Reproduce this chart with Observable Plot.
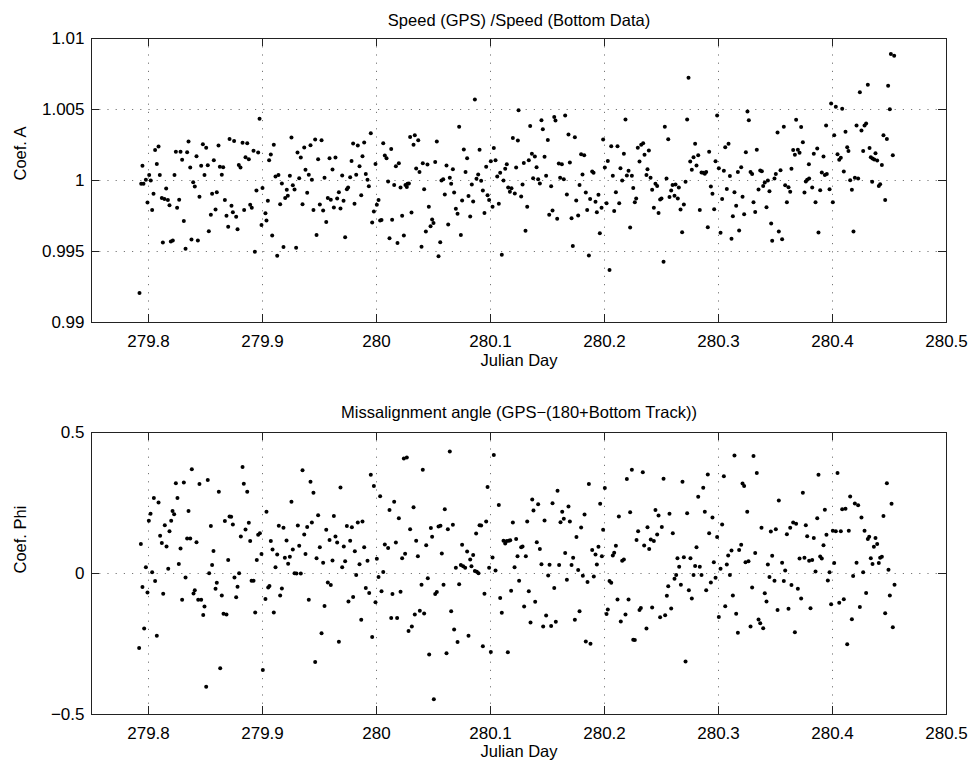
<!DOCTYPE html>
<html><head><meta charset="utf-8">
<script src="https://cdn.jsdelivr.net/npm/d3@7"></script>
<script src="https://cdn.jsdelivr.net/npm/@observablehq/plot@0.6"></script>
<style>
body{margin:0;background:#fff;}
#chart{width:972px;height:765px;}
#chart svg{display:block;}
</style></head><body><div id="chart"></div>
<script>
const xTicks=[279.8,279.9,280,280.1,280.2,280.3,280.4,280.5];
const xTickLabels=["279.8","279.9","280","280.1","280.2","280.3","280.4","280.5"];
const xDomain=[279.75,280.5];
const xLabel="Julian Day";
const topTitle="Speed (GPS) /Speed (Bottom Data)";
const topYLabel="Coef. A";
const topYTicks=[0.99,0.995,1,1.005,1.01];
const topYTickLabels=["0.99","0.995","1","1.005","1.01"];
const topYDomain=[0.99,1.01];
const botTitle="Missalignment angle (GPS\u2212(180+Bottom Track))";
const botYLabel="Coef. Phi";
const botYTicks=[-0.5,0,0.5];
const botYTickLabels=["\u22120.5","0","0.5"];
const botYDomain=[-0.5,0.5];

const coefA=[[279.7921,0.99207],[279.7947,1.00103],[279.7936,0.99977],[279.7956,0.99977],[279.7977,1.00005],[279.8006,1.00038],[279.8020,1.00000],[279.7991,0.99845],[279.8044,0.99906],[279.8032,0.99793],[279.8058,1.00214],[279.8088,1.00239],[279.8073,1.00117],[279.8099,1.00038],[279.8117,0.99876],[279.8140,0.99869],[279.8170,0.99862],[279.8155,0.99944],[279.8184,0.99826],[279.8126,0.99563],[279.8196,0.99570],[279.8213,0.99578],[279.8228,1.00038],[279.8240,1.00202],[279.8281,1.00202],[279.8251,0.99808],[279.8269,0.99864],[279.8295,1.00146],[279.8310,0.99714],[279.8325,0.99519],[279.8339,1.00199],[279.8351,1.00275],[279.8366,1.00092],[279.8377,0.99585],[279.8392,0.99988],[279.8406,0.99958],[279.8421,1.00171],[279.8433,0.99578],[279.8447,0.99885],[279.8462,1.00103],[279.8477,1.00256],[279.8491,1.00038],[279.8506,1.00230],[279.8520,1.00108],[279.8529,0.99643],[279.8547,0.99758],[279.8558,0.99906],[279.8573,1.00143],[279.8588,0.99796],[279.8599,0.99918],[279.8614,1.00246],[279.8626,1.00096],[279.8655,1.00094],[279.8643,1.00040],[279.8670,0.99862],[279.8684,0.99751],[279.8699,0.99674],[279.8711,1.00293],[279.8728,0.99822],[279.8740,0.99777],[279.8751,1.00279],[279.8769,0.99744],[279.8781,0.99657],[279.8792,1.00110],[279.8807,1.00092],[279.8825,1.00265],[279.8839,0.99793],[279.8851,1.00164],[279.8866,1.00263],[279.8880,1.00150],[279.8892,0.99829],[279.8906,0.99808],[279.8921,1.00209],[279.8933,0.99498],[279.8947,0.99930],[279.8962,1.00197],[279.8974,1.00434],[279.8991,0.99686],[279.9000,0.99948],
[279.9026,0.99770],[279.9035,0.99718],[279.9047,0.99857],[279.9058,1.00143],[279.9073,1.00183],[279.9085,0.99613],[279.9099,1.00251],[279.9114,1.00028],[279.9140,1.00038],[279.9129,0.99470],[279.9155,0.99833],[279.9170,0.99979],[279.9184,0.99531],[279.9199,0.99876],[279.9222,0.99892],[279.9213,0.99934],[279.9240,1.00033],[279.9254,1.00303],[279.9266,0.99967],[279.9281,0.99937],[279.9295,0.99526],[279.9307,1.00197],[279.9322,1.00016],[279.9336,1.00162],[279.9351,0.99833],[279.9366,1.00232],[279.9377,1.00075],[279.9392,0.99913],[279.9406,1.00040],[279.9421,1.00249],[279.9433,1.00005],[279.9447,0.99793],[279.9462,1.00289],[279.9474,0.99617],[279.9488,1.00150],[279.9503,0.99831],[279.9518,1.00284],[279.9532,0.99789],[279.9544,1.00019],[279.9559,0.99707],[279.9573,0.99876],[279.9599,0.99864],[279.9588,1.00157],[279.9614,1.00077],[279.9626,0.99810],[279.9640,1.00162],[279.9655,0.99873],[279.9670,0.99918],[279.9684,0.99803],[279.9699,1.00035],[279.9711,0.99857],[279.9725,0.99601],[279.9740,0.99939],[279.9751,0.99951],[279.9769,1.00023],[279.9781,1.00138],[279.9795,1.00261],[279.9807,0.99836],[279.9822,1.00040],[279.9836,1.00246],[279.9851,1.00101],[279.9866,0.99897],[279.9877,1.00171],[279.9892,1.00268],[279.9906,1.00045],[279.9921,1.00005],[279.9933,0.99960],[279.9950,1.00333],[279.9962,0.99704],[279.9977,0.99782],[279.9991,1.00117],[280.0003,0.99829],[280.0018,0.99862],[280.0032,0.99718],[280.0044,0.99721],[280.0059,1.00263],[280.0073,1.00176],[280.0088,1.00157],[280.0102,0.99993],[280.0114,0.99594],[280.0129,1.00221],[280.0137,0.99723],
[280.0155,0.99969],[280.0170,1.00101],[280.0196,1.00122],[280.0184,0.99559],[280.0211,0.99951],[280.0225,0.99751],[280.0240,0.99613],[280.0254,0.99969],[280.0266,0.99955],[280.0272,0.99977],[280.0284,0.99979],[280.0295,1.00307],[280.0336,1.00319],[280.0307,0.99775],[280.0325,1.00251],[280.0348,1.00084],[280.0366,1.00284],[280.0377,1.00059],[280.0395,0.99533],[280.0406,1.00122],[280.0418,0.99939],[280.0433,0.99641],[280.0447,1.00113],[280.0459,0.99815],[280.0474,0.99678],[280.0488,0.99725],[280.0500,0.99700],[280.0515,1.00131],[280.0529,1.00275],[280.0544,0.99467],[280.0559,0.99566],[280.0570,1.00000],[280.0585,1.00009],[280.0599,0.99901],[280.0614,1.00106],[280.0629,0.99690],[280.0643,1.00019],[280.0655,0.99977],[280.0670,1.00080],[280.0681,0.99916],[280.0696,0.99801],[280.0711,0.99765],[280.0725,1.00378],[280.0740,0.99617],[280.0751,0.99859],[280.0766,1.00218],[280.0781,1.00059],[280.0795,1.00157],[280.0807,0.99890],[280.0822,0.99747],[280.0836,0.99972],[280.0848,0.99852],[280.0863,1.00570],[280.0877,1.00012],[280.0892,1.00042],[280.0904,1.00216],[280.0918,0.99998],[280.0933,0.99930],[280.0947,0.99772],[280.0962,1.00096],[280.0974,0.99897],[280.0988,0.99862],[280.1003,1.00136],[280.1018,0.99815],[280.1029,1.00228],[280.1044,1.00143],[280.1059,1.00028],[280.1073,0.99836],[280.1085,1.00054],[280.1099,0.99477],[280.1114,1.00000],[280.1129,1.00082],[280.1143,1.00115],[280.1155,0.99951],[280.1184,0.99946],[280.1170,0.99920],[280.1196,1.00300],[280.1213,0.99908],[280.1225,1.00092],[280.1240,1.00282],[280.1246,1.00495],
[280.1269,0.99887],[280.1281,0.99972],[280.1292,1.00124],[280.1307,0.99646],[280.1322,0.99815],[280.1336,1.00143],[280.1348,1.00383],[280.1363,1.00188],[280.1374,1.00016],[280.1389,1.00169],[280.1404,1.00094],[280.1418,1.00009],[280.1433,0.99979],[280.1447,1.00425],[280.1459,1.00361],[280.1474,1.00167],[280.1488,1.00033],[280.1503,1.00286],[280.1515,0.99758],[280.1532,0.99960],[280.1544,0.99789],[280.1559,1.00448],[280.1570,1.00422],[280.1585,0.99730],[280.1599,1.00120],[280.1626,1.00115],[280.1611,1.00019],[280.1643,1.00009],[280.1655,1.00458],[280.1670,0.99901],[280.1684,1.00324],[280.1696,1.00127],[280.1711,0.99735],[280.1722,0.99538],[280.1740,1.00305],[280.1752,0.99859],[280.1769,0.99754],[280.1781,0.99969],[280.1795,1.00185],[280.1822,1.00178],[280.1807,1.00042],[280.1836,0.99916],[280.1848,0.99793],[280.1863,0.99472],[280.1874,0.99869],[280.1892,1.00063],[280.1904,1.00054],[280.1921,0.99850],[280.1933,0.99777],[280.1947,0.99899],[280.1959,0.99629],[280.1974,0.99808],[280.1988,1.00289],[280.2003,1.00092],[280.2018,0.99840],[280.2029,1.00138],[280.2044,0.99369],[280.2059,1.00242],[280.2073,1.00033],[280.2085,0.99786],[280.2100,0.99918],[280.2114,1.00242],[280.2129,0.99840],[280.2140,1.00087],[280.2155,1.00000],[280.2170,1.00188],[280.2184,1.00430],[280.2196,1.00035],[280.2211,1.00068],[280.2225,0.99669],[280.2240,1.00033],[280.2252,0.99948],[280.2266,0.99847],[280.2278,0.99873],[280.2292,1.00230],[280.2307,1.00134],[280.2322,1.00251],[280.2339,1.00263],[280.2351,1.00181],
[280.2368,1.00038],[280.2377,1.00080],[280.2389,1.00211],[280.2404,1.00019],[280.2418,0.99934],[280.2433,0.99808],[280.2447,0.99977],[280.2462,0.99962],[280.2474,0.99772],[280.2488,0.99866],[280.2500,0.99873],[280.2518,0.99427],[280.2529,1.00378],[280.2544,1.00014],[280.2559,1.00291],[280.2570,0.99883],[280.2585,0.99930],[280.2597,0.99969],[280.2623,0.99972],[280.2614,0.99892],[280.2643,0.99873],[280.2652,0.99951],[280.2667,0.99796],[280.2681,0.99636],[280.2696,0.99831],[280.2711,0.99991],[280.2725,1.00430],[280.2737,1.00723],[280.2752,1.00134],[280.2766,1.00075],[280.2781,1.00164],[280.2795,1.00258],[280.2807,1.00106],[280.2822,1.00178],[280.2836,0.99793],[280.2851,1.00056],[280.2866,1.00054],[280.2880,1.00047],[280.2892,1.00059],[280.2906,0.99671],[280.2918,1.00202],[280.2933,0.99958],[280.2947,0.99906],[280.2962,0.99798],[280.2974,1.00136],[280.2988,1.00458],[280.3003,1.00087],[280.3018,0.99632],[280.3032,0.99869],[280.3047,1.00068],[280.3059,1.00235],[280.3073,0.99941],[280.3088,1.00258],[280.3100,1.00031],[280.3114,0.99589],[280.3126,0.99749],[280.3140,0.99918],[280.3155,0.99822],[280.3170,1.00059],[280.3181,0.99648],[280.3199,1.00094],[280.3211,0.99885],[280.3225,0.99763],[280.3240,1.00199],[280.3254,1.00486],[280.3266,1.00425],[280.3281,1.00059],[280.3295,1.00045],[280.3307,0.99847],[280.3322,0.99779],[280.3336,1.00216],[280.3351,0.99937],[280.3366,1.00070],[280.3380,1.00066],[280.3392,0.99962],[280.3406,0.99986],[280.3421,0.99812],[280.3433,1.00000],[280.3447,0.99925],[280.3462,0.99697],[280.3471,0.99575],
[280.3491,1.00014],[280.3503,1.00045],[280.3518,1.00338],[280.3529,0.99641],[280.3544,1.00073],[280.3558,0.99587],[280.3573,1.00378],[280.3585,0.99967],[280.3600,0.99847],[280.3614,0.99953],[280.3629,0.99920],[280.3640,1.00082],[280.3655,1.00214],[280.3670,1.00181],[280.3681,1.00427],[280.3696,1.00216],[280.3711,1.00195],[280.3725,1.00376],[280.3740,1.00270],[280.3754,0.99916],[280.3766,0.99993],[280.3778,1.00005],[280.3795,1.00014],[280.3793,1.00115],[280.3822,0.99951],[280.3836,1.00188],[280.3851,0.99847],[280.3866,1.00225],[280.3877,0.99634],[280.3892,0.99932],[280.3906,1.00056],[280.3921,1.00169],[280.3933,1.00038],[280.3950,1.00045],[280.3944,1.00387],[280.3974,0.99939],[280.3988,1.00542],[280.4003,0.99847],[280.4015,1.00319],[280.4029,1.00519],[280.4044,1.00185],[280.4059,1.00146],[280.4073,1.00160],[280.4085,1.00505],[280.4099,1.00063],[280.4114,1.00343],[280.4129,1.00235],[280.4140,1.00207],[280.4155,1.00002],[280.4170,0.99934],[280.4184,0.99641],[280.4196,1.00019],[280.4225,1.00014],[280.4211,1.00387],[280.4240,1.00622],[280.4254,1.00352],[280.4269,1.00207],[280.4281,1.00387],[280.4295,1.00401],[280.4310,1.00674],[280.4325,1.00228],[280.4336,1.00164],[280.4351,1.00155],[280.4348,0.99991],[280.4366,1.00148],[280.4392,1.00141],[280.4377,1.00192],[280.4406,0.99962],[280.4418,0.99974],[280.4433,1.00110],[280.4447,1.00319],[280.4462,0.99862],[280.4477,1.00293],[280.4488,1.00667],[280.4503,1.00502],[280.4512,1.00890],[280.4541,1.00878],[280.4529,1.00178]];

const coefPhi=[[279.7918,-0.264],[279.7933,0.105],[279.7947,-0.048],[279.7962,-0.195],[279.7977,0.022],[279.7991,-0.067],[279.8003,0.187],[279.8018,0.212],[279.8032,0.004],[279.8047,0.268],[279.8058,-0.027],[279.8073,-0.221],[279.8088,0.252],[279.8102,0.134],[279.8117,0.108],[279.8129,-0.072],[279.8143,0.171],[279.8158,0.096],[279.8173,0.017],[279.8184,0.150],[279.8199,0.187],[279.8211,0.222],[279.8225,0.210],[279.8240,0.320],[279.8254,0.268],[279.8266,0.034],[279.8281,0.089],[279.8295,-0.093],[279.8310,0.323],[279.8325,-0.014],[279.8339,0.124],[279.8366,0.124],[279.8351,0.222],[279.8380,0.370],[279.8395,-0.071],[279.8406,-0.059],[279.8421,0.111],[279.8436,-0.093],[279.8462,-0.093],[279.8447,0.317],[279.8480,-0.147],[279.8491,-0.117],[279.8506,-0.402],[279.8520,0.332],[279.8532,0.001],[279.8547,0.168],[279.8558,0.030],[279.8570,0.080],[279.8588,-0.054],[279.8599,-0.033],[279.8617,0.290],[279.8629,-0.336],[279.8643,-0.078],[279.8658,-0.143],[279.8684,-0.145],[279.8670,0.186],[279.8699,0.048],[279.8711,0.202],[279.8725,0.201],[279.8740,0.174],[279.8754,-0.014],[279.8769,-0.084],[279.8781,-0.047],[279.8795,0.001],[279.8810,0.131],[279.8825,0.378],[279.8836,0.318],[279.8851,0.156],[279.8866,0.290],[279.8880,0.180],[279.8892,0.115],[279.8904,-0.026],[279.8921,-0.026],[279.8936,-0.138],[279.8950,0.048],[279.8962,0.137],[279.8977,0.143],[279.8991,0.069],[279.9003,-0.342],
[279.9026,-0.090],[279.9035,0.219],[279.9050,-0.050],[279.9061,-0.044],[279.9073,0.115],[279.9088,0.085],[279.9099,-0.138],[279.9114,0.022],[279.9129,0.067],[279.9143,0.169],[279.9155,-0.078],[279.9170,-0.053],[279.9184,0.162],[279.9196,0.056],[279.9211,0.117],[279.9225,0.035],[279.9240,0.059],[279.9254,0.254],[279.9266,0.085],[279.9281,0.001],[279.9298,0.000],[279.9336,0.000],[279.9310,0.170],[279.9322,0.098],[279.9351,0.366],[279.9366,0.138],[279.9377,0.069],[279.9392,0.165],[279.9406,-0.093],[279.9421,0.325],[279.9433,0.181],[279.9447,0.286],[279.9474,0.054],[279.9462,-0.314],[279.9488,0.207],[279.9503,0.093],[279.9518,-0.212],[279.9532,0.038],[279.9544,-0.115],[279.9559,0.155],[279.9573,-0.032],[279.9599,-0.041],[279.9588,0.119],[279.9614,0.046],[279.9626,0.204],[279.9640,0.131],[279.9655,0.110],[279.9670,-0.242],[279.9684,0.305],[279.9699,0.022],[279.9713,0.096],[279.9725,0.043],[279.9740,0.168],[279.9754,-0.099],[279.9769,0.116],[279.9784,0.164],[279.9795,-0.083],[279.9810,0.079],[279.9822,-0.005],[279.9836,0.181],[279.9877,0.184],[279.9851,0.033],[279.9866,-0.164],[279.9892,0.093],[279.9906,-0.051],[279.9921,0.045],[279.9936,-0.069],[279.9950,0.350],[279.9962,-0.225],[279.9977,0.310],[279.9991,-0.102],[280.0003,0.052],[280.0018,-0.012],[280.0032,0.274],[280.0044,-0.063],[280.0059,0.005],[280.0073,0.103],[280.0102,0.090],[280.0114,0.225],[280.0129,-0.158],
[280.0140,-0.073],[280.0155,0.254],[280.0170,0.110],[280.0181,-0.158],[280.0196,0.196],[280.0211,-0.065],[280.0225,0.054],[280.0240,0.408],[280.0266,0.411],[280.0251,0.070],[280.0281,-0.204],[280.0295,0.157],[280.0310,-0.188],[280.0325,0.235],[280.0336,-0.145],[280.0348,0.116],[280.0363,0.061],[280.0380,-0.132],[280.0395,-0.040],[280.0406,0.368],[280.0418,-0.142],[280.0436,0.100],[280.0450,-0.017],[280.0462,-0.287],[280.0477,0.161],[280.0488,0.130],[280.0503,-0.446],[280.0515,-0.073],[280.0529,-0.066],[280.0544,0.167],[280.0561,0.169],[280.0573,0.071],[280.0588,-0.040],[280.0599,0.228],[280.0614,-0.283],[280.0626,0.157],[280.0643,0.433],[280.0655,-0.134],[280.0670,0.173],[280.0681,-0.199],[280.0696,0.020],[280.0711,-0.243],[280.0725,-0.038],[280.0740,0.030],[280.0760,0.026],[280.0778,0.020],[280.0751,0.102],[280.0795,0.078],[280.0807,-0.221],[280.0822,0.050],[280.0833,0.026],[280.0848,0.066],[280.0863,0.009],[280.0880,0.006],[280.0895,0.001],[280.0874,0.142],[280.0904,0.171],[280.0918,0.170],[280.0933,-0.258],[280.0947,-0.072],[280.0962,0.184],[280.0974,0.307],[280.0988,0.020],[280.1003,-0.278],[280.1018,0.057],[280.1029,0.420],[280.1044,0.011],[280.1073,0.243],[280.1085,-0.087],[280.1099,-0.139],[280.1114,0.116],[280.1129,0.106],[280.1143,0.115],[280.1161,0.116],[280.1173,0.118],[280.1152,-0.279],[280.1181,-0.061],[280.1196,0.181],[280.1211,0.022],[280.1225,0.122],[280.1237,0.061],[280.1251,-0.026],
[280.1269,0.093],[280.1281,0.096],[280.1295,-0.117],[280.1310,0.061],[280.1322,0.184],[280.1336,-0.063],[280.1351,-0.174],[280.1366,0.262],[280.1377,0.223],[280.1392,-0.100],[280.1406,0.111],[280.1418,0.246],[280.1433,0.087],[280.1447,0.033],[280.1462,-0.188],[280.1474,0.188],[280.1488,-0.149],[280.1506,-0.007],[280.1518,0.031],[280.1532,-0.186],[280.1544,0.249],[280.1559,-0.051],[280.1573,-0.171],[280.1588,0.293],[280.1602,0.030],[280.1614,0.182],[280.1629,0.219],[280.1643,0.194],[280.1655,0.073],[280.1670,-0.022],[280.1684,0.238],[280.1696,0.184],[280.1711,0.030],[280.1725,0.056],[280.1740,-0.164],[280.1754,0.129],[280.1769,0.012],[280.1781,-0.134],[280.1795,0.163],[280.1810,-0.008],[280.1825,0.209],[280.1836,-0.241],[280.1877,-0.249],[280.1851,-0.030],[280.1863,0.317],[280.1892,0.083],[280.1906,-0.011],[280.1921,0.067],[280.1933,0.032],[280.1947,0.095],[280.1962,0.247],[280.1977,0.061],[280.1988,0.155],[280.2003,0.303],[280.2018,-0.144],[280.2029,-0.128],[280.2044,-0.027],[280.2059,-0.033],[280.2073,0.064],[280.2085,0.074],[280.2100,0.098],[280.2114,-0.092],[280.2126,0.202],[280.2143,-0.170],[280.2155,0.045],[280.2170,0.050],[280.2184,-0.145],[280.2196,0.335],[280.2211,-0.092],[280.2225,0.217],[280.2240,0.368],[280.2252,-0.235],[280.2266,-0.236],[280.2281,0.119],[280.2295,0.150],[280.2307,-0.129],[280.2319,-0.122],[280.2336,0.359],[280.2348,0.099],
[280.2368,-0.195],[280.2377,0.164],[280.2392,0.087],[280.2406,0.121],[280.2433,0.115],[280.2418,-0.121],[280.2447,0.225],[280.2462,0.138],[280.2474,0.206],[280.2488,-0.155],[280.2503,0.165],[280.2518,0.336],[280.2532,-0.148],[280.2547,-0.079],[280.2559,-0.045],[280.2570,0.212],[280.2585,-0.124],[280.2599,0.143],[280.2614,-0.019],[280.2629,-0.005],[280.2640,0.054],[280.2655,0.024],[280.2670,-0.040],[280.2684,0.325],[280.2696,0.058],[280.2711,-0.312],[280.2725,0.214],[280.2740,-0.059],[280.2754,0.054],[280.2766,-0.089],[280.2781,-0.005],[280.2795,0.027],[280.2807,0.093],[280.2822,0.272],[280.2836,0.024],[280.2851,-0.005],[280.2866,0.304],[280.2880,0.219],[280.2892,-0.059],[280.2906,0.351],[280.2918,0.143],[280.2933,-0.032],[280.2947,0.199],[280.2959,0.040],[280.2974,-0.015],[280.2988,0.129],[280.3003,-0.154],[280.3018,0.017],[280.3032,0.174],[280.3047,0.345],[280.3059,-0.116],[280.3073,0.032],[280.3085,0.064],[280.3100,-0.005],[280.3114,0.082],[280.3126,-0.078],[280.3140,0.418],[280.3155,-0.143],[280.3170,-0.210],[280.3181,0.083],[280.3199,0.102],[280.3211,0.319],[280.3225,0.310],[280.3237,0.040],[280.3263,0.043],[280.3252,0.219],[280.3281,-0.188],[280.3295,-0.050],[280.3307,0.417],[280.3322,0.073],[280.3336,0.356],[280.3351,-0.163],[280.3366,-0.176],[280.3377,0.162],[280.3392,-0.194],[280.3406,-0.070],[280.3421,-0.099],[280.3433,0.032],[280.3447,-0.012],[280.3459,0.149],[280.3471,0.063],
[280.3491,-0.026],[280.3503,0.157],[280.3518,-0.129],[280.3529,0.259],[280.3558,0.038],[280.3573,-0.027],[280.3585,0.011],[280.3600,0.139],[280.3614,-0.125],[280.3629,0.162],[280.3640,-0.041],[280.3655,0.181],[280.3681,0.176],[280.3670,-0.208],[280.3696,-0.054],[280.3711,0.053],[280.3725,-0.089],[280.3740,0.286],[280.3754,0.056],[280.3766,0.171],[280.3778,0.132],[280.3795,0.045],[280.3822,0.048],[280.3807,-0.123],[280.3836,0.126],[280.3851,0.007],[280.3866,0.196],[280.3877,0.350],[280.3892,0.060],[280.3906,0.053],[280.3921,0.100],[280.3933,0.226],[280.3947,0.137],[280.3959,-0.025],[280.3974,0.004],[280.3988,-0.109],[280.4003,0.152],[280.4029,0.150],[280.4073,0.150],[280.4015,0.037],[280.4044,0.356],[280.4059,-0.104],[280.4085,0.228],[280.4114,0.230],[280.4099,-0.091],[280.4129,-0.251],[280.4143,0.152],[280.4155,0.273],[280.4170,-0.162],[280.4181,-0.009],[280.4196,0.248],[280.4225,0.242],[280.4211,0.038],[280.4240,-0.119],[280.4254,0.199],[280.4269,0.004],[280.4281,0.152],[280.4295,-0.069],[280.4310,0.122],[280.4322,0.130],[280.4336,0.054],[280.4351,0.034],[280.4363,0.095],[280.4377,0.126],[280.4392,0.105],[280.4406,0.037],[280.4418,0.056],[280.4433,0.059],[280.4447,0.204],[280.4462,-0.141],[280.4477,0.320],[280.4491,0.013],[280.4503,-0.078],[280.4518,0.247],[280.4529,-0.191],[280.4544,-0.040]];

function panel(o){
  const W=972, ML=91, MR=26;
  const fw=W-ML-MR, fh=o.height-o.marginTop-o.marginBottom;
  const tk=8, ink="#222";
  return Plot.plot({
    width:W, height:o.height, marginLeft:ML, marginRight:MR, marginTop:o.marginTop, marginBottom:o.marginBottom,
    style:{fontFamily:"'Liberation Sans', Arial, Helvetica, sans-serif", fontSize:"17px", color:"#000", background:"#fff", overflow:"visible"},
    x:{domain:xDomain},
    y:{domain:o.yDomain},
    marks:[
      Plot.gridX(xTicks.slice(0,-1), {stroke:"#777", strokeOpacity:1, strokeWidth:1, strokeDasharray:"1.2,7"}),
      Plot.gridY(o.yTicks.slice(1,-1), {stroke:"#777", strokeOpacity:1, strokeWidth:1, strokeDasharray:"1.2,7"}),
      Plot.dot(o.data, {x:d=>d[0], y:d=>d[1], r:2, fill:"#000", stroke:null}),
      Plot.ruleX(xTicks, {insetBottom:fh-tk, stroke:ink}),
      Plot.ruleX(xTicks, {insetTop:fh-tk, stroke:ink}),
      Plot.ruleY(o.yTicks, {insetRight:fw-tk, stroke:ink}),
      Plot.ruleY(o.yTicks, {insetLeft:fw-tk, stroke:ink}),
      Plot.frame({stroke:ink}),
      Plot.axisX({ticks:xTicks, tickSize:0, tickPadding:12, tickFormat:d=>xTickLabels[xTicks.indexOf(d)], label:null, fontSize:17}),
      Plot.axisY({ticks:o.yTicks, tickSize:0, tickPadding:7, tickFormat:d=>o.yTickLabels[o.yTicks.indexOf(d)], label:null, fontSize:17}),
      Plot.text([o.title], {text:d=>d, frameAnchor:"top", dy:o.titleDy, fontSize:16.5}),
      Plot.text([xLabel], {text:d=>d, frameAnchor:"bottom", dy:o.xLabelDy, fontSize:16.5}),
      Plot.text([o.yLabel], {text:d=>d, frameAnchor:"left", dx:-71, rotate:-90, fontSize:16.5})
    ]
  });
}
const chart=document.getElementById("chart");
chart.append(panel({data:coefA, yDomain:topYDomain, yTicks:topYTicks, yTickLabels:topYTickLabels, title:topTitle, yLabel:topYLabel, height:382, marginTop:38, marginBottom:60, titleDy:-24, xLabelDy:43}));
chart.append(panel({data:coefPhi, yDomain:botYDomain, yTicks:botYTicks, yTickLabels:botYTickLabels, title:botTitle, yLabel:botYLabel, height:383, marginTop:50, marginBottom:51, titleDy:-26, xLabelDy:42}));
</script></body></html>
